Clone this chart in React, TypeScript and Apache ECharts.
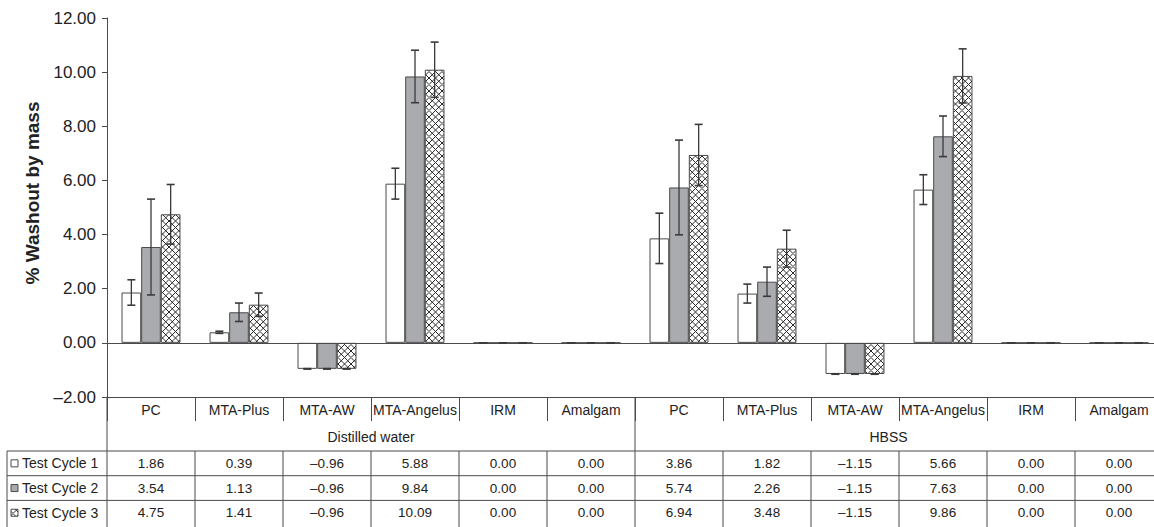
import React, { useEffect, useRef } from "react";
import * as echarts from "echarts";

const materials = ["PC", "MTA-Plus", "MTA-AW", "MTA-Angelus", "IRM", "Amalgam"];
const media = ["Distilled water", "HBSS"];
const categories = [...materials, ...materials];
const seriesNames = ["Test Cycle 1", "Test Cycle 2", "Test Cycle 3"];

const cycle1 = [1.86, 0.39, -0.96, 5.88, 0.0, 0.0, 3.86, 1.82, -1.15, 5.66, 0.0, 0.0];
const cycle2 = [3.54, 1.13, -0.96, 9.84, 0.0, 0.0, 5.74, 2.26, -1.15, 7.63, 0.0, 0.0];
const cycle3 = [4.75, 1.41, -0.96, 10.09, 0.0, 0.0, 6.94, 3.48, -1.15, 9.86, 0.0, 0.0];

const sd1 = [0.47, 0.04, 0.01, 0.57, 0, 0, 0.93, 0.35, 0.01, 0.55, 0, 0];
const sd2 = [1.77, 0.34, 0.01, 0.97, 0, 0, 1.75, 0.54, 0.01, 0.75, 0, 0];
const sd3 = [1.1, 0.43, 0.01, 1.02, 0, 0, 1.13, 0.68, 0.01, 1.0, 0, 0];

const yMin = -2;
const yMax = 12;
const yInterval = 2;

const FONT = "'Liberation Sans', Arial, sans-serif";
const INK = "#222";
const LINE = "#4a4a4a";
const GRAY = "#a9abae";
const W = 1154;

const hatchSvg =
  '<svg xmlns="http://www.w3.org/2000/svg" width="13" height="13" viewBox="0 0 13 13">' +
  '<rect width="13" height="13" fill="#ffffff"/>' +
  '<path d="M0 0L13 13M6.5 0L13 6.5M0 6.5L6.5 13M13 0L0 13M6.5 0L0 6.5M13 6.5L6.5 13" stroke="#2a2a2a" stroke-width="1" fill="none"/>' +
  "</svg>";

const hatch: any = {
  image: "data:image/svg+xml;charset=utf-8," + encodeURIComponent(hatchSvg),
  repeat: "repeat",
  imageWidth: 13,
  imageHeight: 13,
};

const fills: any[] = ["#ffffff", GRAY, hatch];
const values = [cycle1, cycle2, cycle3];
const sds = [sd1, sd2, sd3];

const fmt = (v: number) => v.toFixed(2).replace("-", "\u2013");

export default function App() {
  const ref = useRef<HTMLDivElement>(null);

  useEffect(() => {
    if (!ref.current) return;
    const chart = echarts.init(ref.current, undefined, { renderer: "svg" });

    const errData: any[] = [];
    values.forEach((arr, s) => {
      arr.forEach((v, i) => errData.push([i, v, sds[s][i], s]));
    });

    const barSeries = values.map((arr, s) => ({
      name: seriesNames[s],
      type: "bar",
      data: arr,
      barGap: "0%",
      barCategoryGap: "33%",
      itemStyle: { color: fills[s], borderColor: LINE, borderWidth: 1 },
      markLine:
        s === 0
          ? {
              silent: true,
              symbol: ["none", "none"],
              label: { show: false },
              lineStyle: { color: LINE, type: "solid", width: 1 },
              data: [{ yAxis: 0 }],
            }
          : undefined,
    }));

    const option: any = {
      animation: false,
      textStyle: { fontFamily: FONT },
      grid: {
        left: 107,
        width: 1056,
        top: 18,
        bottom: 130,
        containLabel: false,
        outerBoundsMode: "none",
      },
      xAxis: {
        type: "category",
        data: categories,
        position: "bottom",
        axisLine: { onZero: false, lineStyle: { color: LINE, width: 1 } },
        axisTick: { show: true, length: 24, lineStyle: { color: LINE } },
        axisLabel: { interval: 0, fontSize: 14, color: INK, margin: 6, fontFamily: FONT },
        splitLine: { show: false },
      },
      yAxis: {
        type: "value",
        min: yMin,
        max: yMax,
        interval: yInterval,
        axisLine: { show: true, lineStyle: { color: LINE, width: 1 } },
        axisTick: { show: true, length: 5, lineStyle: { color: LINE } },
        axisLabel: {
          fontSize: 17,
          color: INK,
          margin: 11,
          fontFamily: FONT,
          formatter: (v: number) => fmt(v),
        },
        splitLine: { show: false },
      },
      series: [
        ...barSeries,
        {
          type: "custom",
          name: "errors",
          data: errData,
          encode: { x: 0, y: 1 },
          z: 5,
          renderItem: (params: any, api: any) => {
            const ci = api.value(0);
            const v = api.value(1);
            const sd = api.value(2);
            const si = api.value(3);
            const band = api.size([1, 0])[0];
            const bw = (band * 0.67) / 3;
            const c = api.coord([ci, v]);
            const x = c[0] + (si - 1) * bw;
            const top = api.coord([ci, v + sd])[1];
            const bot = api.coord([ci, v - sd])[1];
            const cap = 4;
            const style = { stroke: "#3a3a3a", lineWidth: 1.3 };
            const capStyle = { stroke: "#3a3a3a", lineWidth: 1.6 };
            return {
              type: "group",
              children: [
                { type: "line", shape: { x1: x, y1: top, x2: x, y2: bot }, style },
                { type: "line", shape: { x1: x - cap, y1: top, x2: x + cap, y2: top }, style: capStyle },
                { type: "line", shape: { x1: x - cap, y1: bot, x2: x + cap, y2: bot }, style: capStyle },
              ],
            };
          },
        },
      ],
    };

    chart.setOption(option);

    // Build the data table below the plot from the axis scale
    const xs = categories.map((_, i) => chart.convertToPixel({ xAxisIndex: 0 }, i) as number);
    const band = xs[1] - xs[0];
    const bounds = [xs[0] - band / 2, ...xs.map((x) => x + band / 2)];
    const yBottom = chart.convertToPixel({ yAxisIndex: 0 }, yMin) as number;
    const left = 7;
    const tableTop = yBottom + 54;
    const rowH = 24.7;
    const tableBottom = 530;
    const lineStyle = { stroke: LINE, lineWidth: 1 };
    const g: any[] = [];
    const hline = (x1: number, x2: number, y: number) =>
      g.push({ type: "line", shape: { x1, y1: y, x2, y2: y }, style: lineStyle, silent: true });
    const vline = (x: number, y1: number, y2: number) =>
      g.push({ type: "line", shape: { x1: x, y1, x2: x, y2 }, style: lineStyle, silent: true });

    const groupSize = materials.length;
    media.forEach((m, gi) => {
      const x1 = bounds[gi * groupSize];
      const x2 = Math.min(bounds[(gi + 1) * groupSize], W);
      g.push({
        type: "text",
        x: (x1 + x2) / 2 - (gi === 1 ? 6 : 0),
        y: yBottom + 40,
        style: { text: m, fontSize: 14, fill: INK, align: "center", verticalAlign: "middle", fontFamily: FONT },
        silent: true,
      });
    });
    for (let gi = 0; gi <= media.length; gi++) {
      vline(bounds[gi * groupSize], yBottom, tableTop);
    }
    for (let r = 0; r < seriesNames.length; r++) {
      hline(left, bounds[bounds.length - 1], tableTop + r * rowH);
    }
    vline(left, tableTop, tableBottom);
    bounds.forEach((b) => vline(b, tableTop, tableBottom));

    values.forEach((arr, s) => {
      const yc = tableTop + s * rowH + rowH / 2;
      g.push({
        type: "rect",
        shape: { x: left + 4, y: yc - 3.5, width: 7, height: 7 },
        style: { fill: fills[s], stroke: LINE, lineWidth: 1 },
        silent: true,
      });
      g.push({
        type: "text",
        x: left + 15,
        y: yc,
        style: { text: seriesNames[s], fontSize: 14, fill: INK, align: "left", verticalAlign: "middle", fontFamily: FONT },
        silent: true,
      });
      arr.forEach((v, i) => {
        g.push({
          type: "text",
          x: xs[i],
          y: yc,
          style: { text: fmt(v), fontSize: 13.5, fill: INK, align: "center", verticalAlign: "middle", fontFamily: FONT },
          silent: true,
        });
      });
    });

    g.push({
      type: "text",
      x: 32,
      y: 193,
      rotation: Math.PI / 2,
      style: {
        text: "% Washout by mass",
        fontSize: 19,
        fontWeight: "bold",
        fill: INK,
        align: "center",
        verticalAlign: "middle",
        fontFamily: FONT,
      },
      silent: true,
    });

    chart.setOption({ graphic: g });

    return () => chart.dispose();
  }, []);

  return (
    <div
      ref={ref}
      style={{ position: "fixed", left: 0, top: 0, width: W, height: 527, background: "#fff" }}
    />
  );
}
